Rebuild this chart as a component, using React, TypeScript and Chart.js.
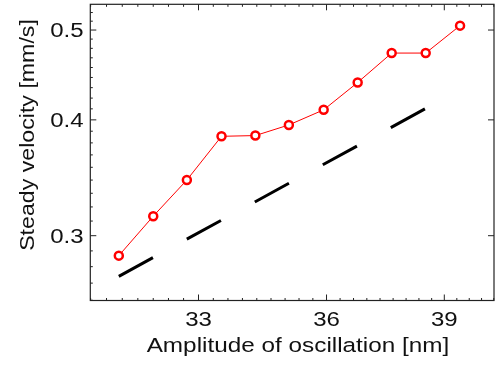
import React, { useEffect, useRef } from "react";
import { Chart, registerables } from "chart.js";

Chart.register(...registerables);

// Data (log-log axes)
const amplitude = [31.26, 32.0, 32.74, 33.52, 34.3, 35.09, 35.93, 36.77, 37.63, 38.51, 39.42];
const velocity = [0.2855, 0.3149, 0.3445, 0.384, 0.3847, 0.395, 0.4101, 0.4389, 0.4722, 0.4722, 0.5055];
const fitAmplitude = [31.26, 38.54];
const fitVelocity = [0.2712, 0.4121];

const xTickValues = [33, 36, 39];
const xTickLabels = ["33", "36", "39"];
const yTickValues = [0.3, 0.4, 0.5];
const yTickLabels = ["0.3", "0.4", "0.5"];
const xTitle = "Amplitude of oscillation [nm]";
const yTitle = "Steady velocity [mm/s]";

const X_MIN = 30.66;
const X_MAX = 40.34;
const Y_MIN = 0.2554;
const Y_MAX = 0.533;

const FONT = '"Liberation Sans", Arial, Helvetica, sans-serif';

const framePlugin = {
  id: "frameAndText",
  afterDraw(chart: any) {
    const ctx = chart.ctx as CanvasRenderingContext2D;
    const { left, right, top, bottom } = chart.chartArea;
    const xs = chart.scales.x;
    const ys = chart.scales.y;
    ctx.save();
    ctx.strokeStyle = "#222";
    ctx.lineWidth = 1.2;
    ctx.strokeRect(left, top, right - left, bottom - top);

    // x ticks (inward), minor every 1/3
    ctx.lineWidth = 1;
    for (let j = 0; j <= 40; j++) {
      const v = 30 + j / 3;
      if (v < X_MIN || v > X_MAX) continue;
      const px = xs.getPixelForValue(v);
      const major = xTickValues.some((t) => Math.abs(t - v) < 1e-6);
      const len = major ? 6 : 2.5;
      ctx.beginPath();
      ctx.moveTo(px, bottom);
      ctx.lineTo(px, bottom - len);
      ctx.moveTo(px, top);
      ctx.lineTo(px, top + len);
      ctx.stroke();
    }
    // y ticks (inward), minor every 1/90
    for (let k = -10; k <= 30; k++) {
      const v = 0.3 + k / 90;
      if (v < Y_MIN || v > Y_MAX) continue;
      const py = ys.getPixelForValue(v);
      const major = yTickValues.some((t) => Math.abs(t - v) < 1e-6);
      const len = major ? 6 : 2.5;
      ctx.beginPath();
      ctx.moveTo(left, py);
      ctx.lineTo(left + len, py);
      if (major) {
        ctx.moveTo(right, py);
        ctx.lineTo(right - len, py);
      }
      ctx.stroke();
    }

    // Labels
    ctx.fillStyle = "#111";
    const sx = 1.2;
    ctx.font = `20px ${FONT}`;
    ctx.textBaseline = "alphabetic";
    yTickValues.forEach((v, i) => {
      const py = ys.getPixelForValue(v);
      ctx.save();
      ctx.translate(83.5, py + 7.2);
      ctx.scale(sx, 1);
      ctx.textAlign = "right";
      ctx.fillText(yTickLabels[i], 0, 0);
      ctx.restore();
    });
    xTickValues.forEach((v, i) => {
      const px = xs.getPixelForValue(v);
      ctx.save();
      ctx.translate(px, 325.7);
      ctx.scale(sx, 1);
      ctx.textAlign = "center";
      ctx.fillText(xTickLabels[i], 0, 0);
      ctx.restore();
    });

    ctx.font = `20.5px ${FONT}`;
    ctx.save();
    ctx.translate(298, 352);
    ctx.scale(1.186, 1);
    ctx.textAlign = "center";
    ctx.fillText(xTitle, 0, 0);
    ctx.restore();

    ctx.save();
    ctx.translate(33.5, 135);
    ctx.rotate(-Math.PI / 2);
    ctx.scale(1.13, 1);
    ctx.textAlign = "center";
    ctx.fillText(yTitle, 0, 0);
    ctx.restore();

    ctx.restore();
  },
};

export default function App() {
  const ref = useRef<HTMLCanvasElement | null>(null);
  useEffect(() => {
    if (!ref.current) return;
    const chart = new Chart(ref.current, {
      type: "line",
      data: {
        datasets: [
          {
            label: "fit",
            data: fitAmplitude.map((x, i) => ({ x, y: fitVelocity[i] })),
            borderColor: "#000",
            borderWidth: 3,
            borderDash: [38.9, 38.6],
            borderCapStyle: "butt",
            pointRadius: 0,
            fill: false,
            tension: 0,
          },
          {
            label: "velocity",
            data: amplitude.map((x, i) => ({ x, y: velocity[i] })),
            borderColor: "#ff0000",
            borderWidth: 1,
            pointRadius: 4,
            pointBorderWidth: 2.5,
            pointBorderColor: "#ff0000",
            pointBackgroundColor: "#ffffff",
            fill: false,
            tension: 0,
          },
        ],
      },
      options: {
        animation: false,
        responsive: false,
        devicePixelRatio: 1,
        layout: { autoPadding: false, padding: { top: 4.3, right: 1, left: 0, bottom: 0 } },
        plugins: { legend: { display: false }, tooltip: { enabled: false } },
        scales: {
          x: {
            type: "logarithmic",
            min: X_MIN,
            max: X_MAX,
            afterBuildTicks: (s: any) => {
              s.ticks = xTickValues.map((value) => ({ value }));
            },
            afterFit: (s: any) => {
              s.height = 66.5;
            },
            ticks: { display: false },
            grid: { display: false },
            border: { display: false },
          },
          y: {
            type: "logarithmic",
            min: Y_MIN,
            max: Y_MAX,
            afterBuildTicks: (s: any) => {
              s.ticks = yTickValues.map((value) => ({ value }));
            },
            afterFit: (s: any) => {
              s.width = 90.3;
            },
            ticks: { display: false },
            grid: { display: false },
            border: { display: false },
          },
        },
      },
      plugins: [framePlugin],
    } as any);
    return () => chart.destroy();
  }, []);
  return (
    <div style={{ position: "fixed", left: 0, top: 0, width: 495, height: 367, background: "#fff" }}>
      <canvas ref={ref} width={495} height={367} style={{ width: 495, height: 367, display: "block" }} />
    </div>
  );
}
